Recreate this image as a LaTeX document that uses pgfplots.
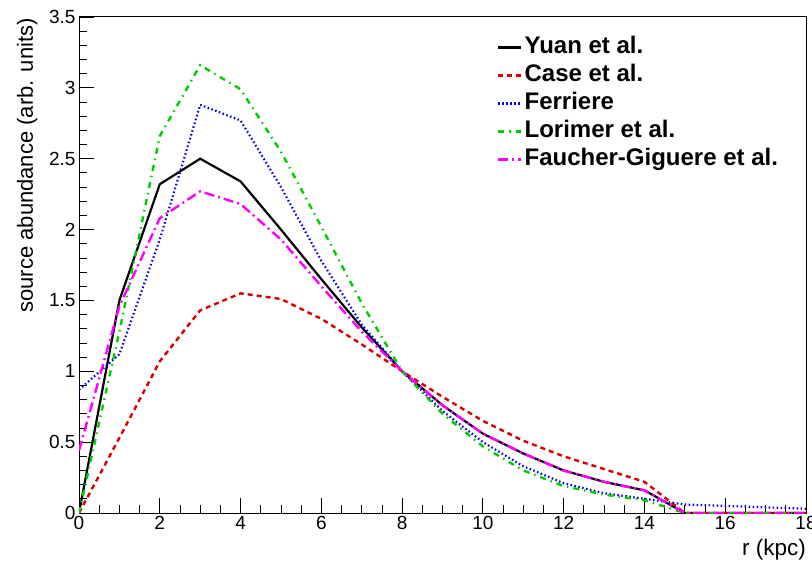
\documentclass[border=0pt]{standalone}
\usepackage{fontspec}
\setmainfont{Liberation Sans}
\usepackage{pgfplots}
\pgfplotsset{compat=1.18}
\definecolor{rred}{RGB}{215,0,0}
\definecolor{rgreen}{RGB}{0,205,0}
\definecolor{rblue}{RGB}{0,0,230}
\definecolor{rmag}{RGB}{255,0,255}
\begin{document}
\begin{tikzpicture}
\begin{axis}[
  name=ax,
  scale only axis, width=727bp, height=496bp,
  xmin=0, xmax=18, ymin=0, ymax=3.5,
  xtick={0,2,...,18}, ytick={0,0.5,...,3.5},
  minor x tick num=3, minor y tick num=4,
  tick align=inside, xtick pos=bottom, ytick pos=left,
  major tick length=15bp, minor tick length=8bp,
  axis line style={line width=1bp},
  every tick/.style={black, line width=0.8bp},
  /pgf/number format/assume math mode=true,
  tick label style={font=\fontsize{19bp}{22bp}\selectfont},
  xlabel={r (kpc)}, ylabel={source abundance (arb. units)},
  xlabel style={font=\fontsize{22.5bp}{26bp}\selectfont, at={(axis description cs:1,-0.0847)}, anchor=base east, inner sep=0pt},
  ylabel style={font=\fontsize{22bp}{26bp}\selectfont, at={(axis description cs:-0.0633,0.998)}, anchor=base east, inner sep=0pt},
  legend style={at={(rel axis cs:0.575,0.965)}, anchor=north west, draw=none, fill=none,
    font=\bfseries\fontsize{24bp}{28bp}\selectfont, row sep=2bp, inner sep=0pt,
    nodes={inner sep=2bp, text height=17bp, text depth=5bp}},
  legend cell align=left,
  legend image code/.code={\draw[#1] (0bp,0bp) -- (23bp,0bp);},
]
\addplot[black, line width=2.2bp] coordinates {(0,0)(1,1.50)(2,2.32)(3,2.50)(4,2.34)(5,2.00)(6,1.65)(7,1.31)(8,1.00)(9,0.76)(10,0.56)(11,0.42)(12,0.30)(13,0.22)(14,0.16)(15,0)(16,0)(17,0)(18,0)};
\addlegendentry{Yuan et al.}
\addplot[rred, line width=2.4bp, dash pattern=on 5bp off 4bp] coordinates {(0,0)(1,0.53)(2,1.07)(3,1.43)(4,1.55)(5,1.51)(6,1.37)(7,1.19)(8,1.00)(9,0.82)(10,0.65)(11,0.51)(12,0.40)(13,0.31)(14,0.22)(15,0)(16,0)(17,0)(18,0)};
\addlegendentry{Case et al.}
\addplot[rblue, line width=2.2bp, dash pattern=on 1.5bp off 2.5bp] coordinates {(0,0.87)(1,1.12)(2,1.93)(3,2.88)(4,2.77)(5,2.30)(6,1.78)(7,1.33)(8,1.00)(9,0.72)(10,0.50)(11,0.33)(12,0.21)(13,0.14)(14,0.10)(15,0.06)(16,0.05)(17,0.04)(18,0.03)};
\addlegendentry{Ferriere}
\addplot[rgreen, line width=2.4bp, dash pattern=on 6bp off 5bp on 1.5bp off 5bp] coordinates {(0,0)(1,1.28)(2,2.66)(3,3.16)(4,2.99)(5,2.55)(6,2.02)(7,1.48)(8,1.00)(9,0.70)(10,0.47)(11,0.30)(12,0.19)(13,0.13)(14,0.09)(15,0)(16,0)(17,0)(18,0)};
\addlegendentry{Lorimer et al.}
\addplot[rmag, line width=2.4bp, dash pattern=on 10bp off 4bp on 2bp off 4bp] coordinates {(0,0.44)(1,1.46)(2,2.08)(3,2.27)(4,2.18)(5,1.93)(6,1.60)(7,1.28)(8,1.00)(9,0.76)(10,0.56)(11,0.42)(12,0.30)(13,0.22)(14,0.16)(15,0)(16,0)(17,0)(18,0)};
\addlegendentry{Faucher-Giguere et al.}
\draw[line width=1bp] (rel axis cs:0,1) -- (rel axis cs:1,1) -- (rel axis cs:1,0);
\end{axis}
\pgfresetboundingbox
\path[use as bounding box] ([xshift=-79bp,yshift=-50bp]ax.south west) rectangle ([xshift=6bp,yshift=17bp]ax.north east);
\end{tikzpicture}
\end{document}
